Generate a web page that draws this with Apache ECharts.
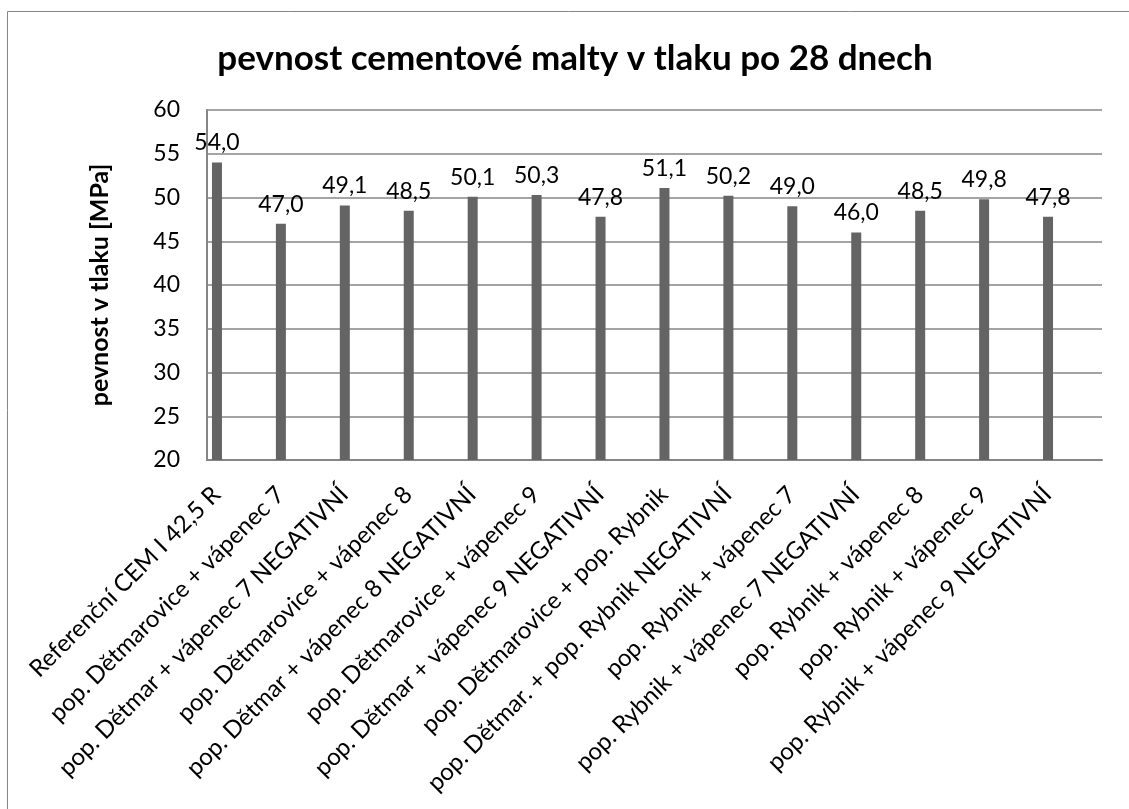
<!DOCTYPE html>
<html>
<head>
<meta charset="utf-8">
<title>pevnost cementové malty v tlaku po 28 dnech</title>
<script src="https://cdn.jsdelivr.net/npm/echarts@6/dist/echarts.min.js"></script>
<style>
  html, body { margin: 0; padding: 0; background: #fff; }
  #chart { width: 1129px; height: 809px; }
</style>
</head>
<body>
<div id="chart"></div>
<script>
// kategorie (receptury) a hodnoty pevnosti v MPa
const categories = [
  'Referenční CEM I 42,5 R',
  'pop. Dětmarovice + vápenec 7',
  'pop. Dětmar + vápenec 7 NEGATIVNÍ',
  'pop. Dětmarovice + vápenec 8',
  'pop. Dětmar + vápenec 8 NEGATIVNÍ',
  'pop. Dětmarovice + vápenec 9',
  'pop. Dětmar + vápenec 9 NEGATIVNÍ',
  'pop. Dětmarovice + pop. Rybnik',
  'pop. Dětmar. + pop. Rybnik NEGATIVNÍ',
  'pop. Rybnik + vápenec 7',
  'pop. Rybnik + vápenec 7 NEGATIVNÍ',
  'pop. Rybnik + vápenec 8',
  'pop. Rybnik + vápenec 9',
  'pop. Rybnik + vápenec 9 NEGATIVNÍ'
]
const strength = [54.0, 47.0, 49.1, 48.5, 50.1, 50.3, 47.8, 51.1, 50.2, 49.0, 46.0, 48.5, 49.8, 47.8]
const emptySeries = categories.map(() => '-')

const FONT = 'Lato, "Open Sans", sans-serif'
const GRID_COLOR = '#868686'

const chart = echarts.init(document.getElementById('chart'))

const option = {
  animation: false,
  backgroundColor: '#fff',
  textStyle: { fontFamily: FONT },
  // rámeček grafu
  graphic: [{
    type: 'rect',
    shape: { x: 7.5, y: 11.5, width: 1200, height: 900 },
    style: { fill: 'none', stroke: GRID_COLOR, lineWidth: 1 },
    silent: true
  }],
  title: {
    text: 'pevnost cementové malty v tlaku po 28 dnech',
    left: 570,
    top: 36,
    textAlign: 'center',
    textStyle: { fontFamily: FONT, fontSize: 35, fontWeight: 'bold', color: '#000' }
  },
  grid: { left: 207, right: 27, top: 110, bottom: 349, containLabel: false, outerBoundsMode: 'none' },
  xAxis: {
    type: 'category',
    data: categories,
    axisLine: { lineStyle: { color: GRID_COLOR, width: 2 } },
    axisTick: { show: false },
    axisLabel: {
      interval: 0,
      rotate: 45,
      margin: 8,
      fontFamily: FONT,
      fontSize: 24,
      color: '#000',
      // mezera za textem posune popisek doleva k sloupci
      formatter: v => '{t|' + v + '}{s| }',
      rich: {
        t: { fontFamily: FONT, fontSize: 24, color: '#000' },
        s: { width: 32, fontSize: 24 }
      }
    }
  },
  yAxis: {
    type: 'value',
    min: 20,
    max: 60,
    interval: 5,
    name: 'pevnost v tlaku [MPa]',
    nameLocation: 'middle',
    nameRotate: 90,
    nameGap: 95,
    nameTextStyle: { fontFamily: FONT, fontSize: 25, fontWeight: 'bold', color: '#000' },
    axisLine: { show: true, lineStyle: { color: GRID_COLOR, width: 2 } },
    axisTick: { show: false },
    axisLabel: { margin: 27, fontFamily: FONT, fontSize: 23, color: '#000' },
    splitLine: { lineStyle: { color: GRID_COLOR, width: 1.5 } }
  },
  series: [
    {
      name: 'pevnost',
      type: 'bar',
      data: strength,
      barWidth: 10,
      barGap: '340%',
      itemStyle: { color: '#646464' },
      label: {
        show: true,
        position: 'top',
        distance: 8,
        fontFamily: FONT,
        fontSize: 23,
        color: '#000',
        formatter: p => p.value.toFixed(1).replace('.', ',')
      }
    },
    {
      // prázdná řada – posouvá sloupce doleva jako v původním grafu
      name: 'prázdná',
      type: 'bar',
      data: emptySeries,
      barWidth: 10,
      barGap: '340%',
      silent: true
    }
  ]
}

chart.setOption(option)
window.addEventListener('resize', () => chart.resize())
</script>
</body>
</html>
